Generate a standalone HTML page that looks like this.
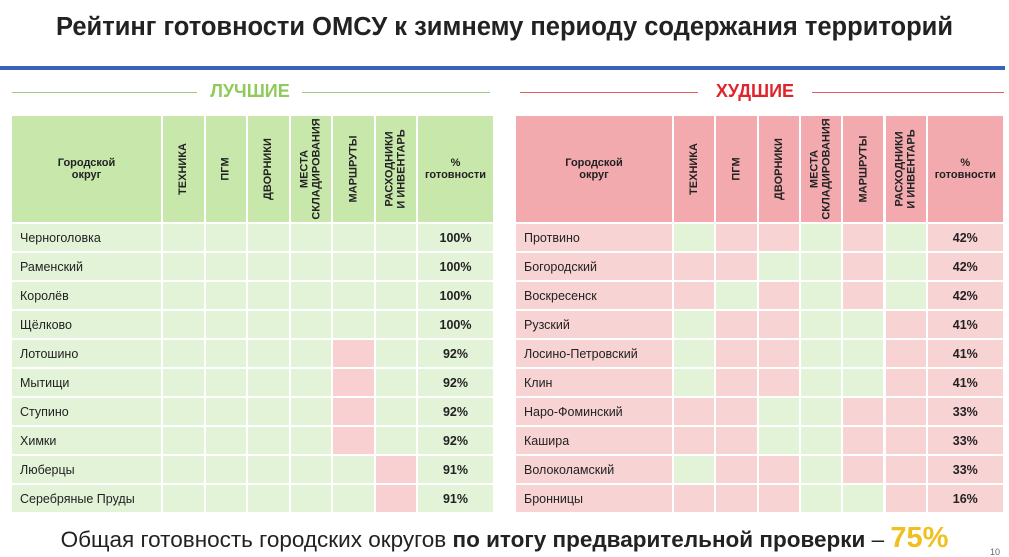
<!DOCTYPE html>
<html><head><meta charset="utf-8"><style>
body{margin:0;width:1009px;height:557px;background:#fff;position:relative;overflow:hidden;font-family:"Liberation Sans","DejaVu Sans",sans-serif}
.a{position:absolute;box-sizing:border-box}
.cell{position:absolute;box-sizing:border-box;border-right:2px solid #fff;border-bottom:2px solid #fff;display:flex;align-items:center;font-size:12.5px;color:#222}
.hd{font-weight:bold;font-size:11px;justify-content:center;text-align:center;line-height:12px}
.rot{transform:rotate(-90deg);white-space:nowrap}
</style></head><body>
<div class="a" style="left:0;top:13px;width:1009px;text-align:center;font-size:25.5px;font-weight:bold;color:#222;white-space:nowrap">Рейтинг готовности ОМСУ к зимнему периоду содержания территорий</div>
<div class="a" style="left:0;top:66px;width:1005px;height:4px;background:#3a62b8"></div>
<div class="a" style="left:12px;top:92px;width:185px;height:1px;background:#9bc97e"></div>
<div class="a" style="left:200px;top:81px;width:100px;text-align:center;font-size:18px;font-weight:bold;color:#8fca5c">ЛУЧШИЕ</div>
<div class="a" style="left:302px;top:92px;width:188px;height:1px;background:#9bc97e"></div>
<div class="a" style="left:520px;top:92px;width:178px;height:1px;background:#e06060"></div>
<div class="a" style="left:700px;top:81px;width:110px;text-align:center;font-size:18px;font-weight:bold;color:#e0242c">ХУДШИЕ</div>
<div class="a" style="left:812px;top:92px;width:192px;height:1px;background:#e06060"></div>
<div id="tables"></div>
<div class="a" style="left:0;top:522px;width:1009px;text-align:center;font-size:22.5px;color:#222;white-space:nowrap">Общая готовность городских округов <b>по итогу предварительной проверки</b> – <b style="color:#f0c020;font-size:29px">75%</b></div>
<div class="a" style="left:990px;top:547px;font-size:9px;color:#666">10</div>
<script>
const columns=["ТЕХНИКА","ПГМ","ДВОРНИКИ","МЕСТА<br>СКЛАДИРОВАНИЯ","МАРШРУТЫ","РАСХОДНИКИ<br>И ИНВЕНТАРЬ"];
const bestNames=["Черноголовка","Раменский","Королёв","Щёлково","Лотошино","Мытищи","Ступино","Химки","Люберцы","Серебряные Пруды"];
const bestPct=[100,100,100,100,92,92,92,92,91,91];
const bestMarks=["111111","111111","111111","111111","111101","111101","111101","111101","111110","111110"];
const worstNames=["Протвино","Богородский","Воскресенск","Рузский","Лосино-Петровский","Клин","Наро-Фоминский","Кашира","Волоколамский","Бронницы"];
const worstPct=[42,42,42,41,41,41,33,33,33,16];
const worstMarks=["100101","001101","010101","100110","100110","100110","001100","001100","100100","000110"];
const root=document.getElementById('tables');
function mk(x,y,w,h,bg,cls,html,name){
  const d=document.createElement('div');
  d.className='cell '+(cls||'');
  d.style.cssText=`left:${x}px;top:${y}px;width:${w}px;height:${h}px;background:${bg}`;
  d.innerHTML=html||'';
  
  
  root.appendChild(d);return d;
}
function table(x0,nameW,colW,pctW,names,pct,marks,hdr,base,ok,bad,prefix){
  const top=116,hH=108,rH=29;
  mk(x0,top,nameW,hH,hdr,'hd','Городской<br>округ',prefix+'-header-name');
  columns.forEach((c,i)=>{mk(x0+nameW+i*colW,top,colW,hH,hdr,'hd','<span class="rot">'+c+'</span>',prefix+'-header-col');});
  mk(x0+nameW+6*colW,top,pctW,hH,hdr,'hd','%<br>готовности',prefix+'-header-pct');
  names.forEach((n,r)=>{
    const y=top+hH+r*rH;
    const c=mk(x0,y,nameW,rH,base,'','',prefix+'-row-name');c.style.paddingLeft='8px';c.textContent=n;
    for(let i=0;i<6;i++){
      const v=marks[r][i]==='1';
      mk(x0+nameW+i*colW,y,colW,rH,v?ok:bad,'','',prefix+'-status-cell');
    }
    const p=mk(x0+nameW+6*colW,y,pctW,rH,base,'hd','',prefix+'-row-pct');p.style.fontSize='12.5px';p.textContent=pct[r]+'%';
  });
}
table(12,151,42.5,77,bestNames,bestPct,bestMarks,'#c8e8ab','#e3f3d8','#e3f3d8','#f8d0d2','best');
table(516,158,42.3,77,worstNames,worstPct,worstMarks,'#f2aaae','#f8d3d4','#e3f3d8','#f8d3d4','worst');
</script>
</body></html>
